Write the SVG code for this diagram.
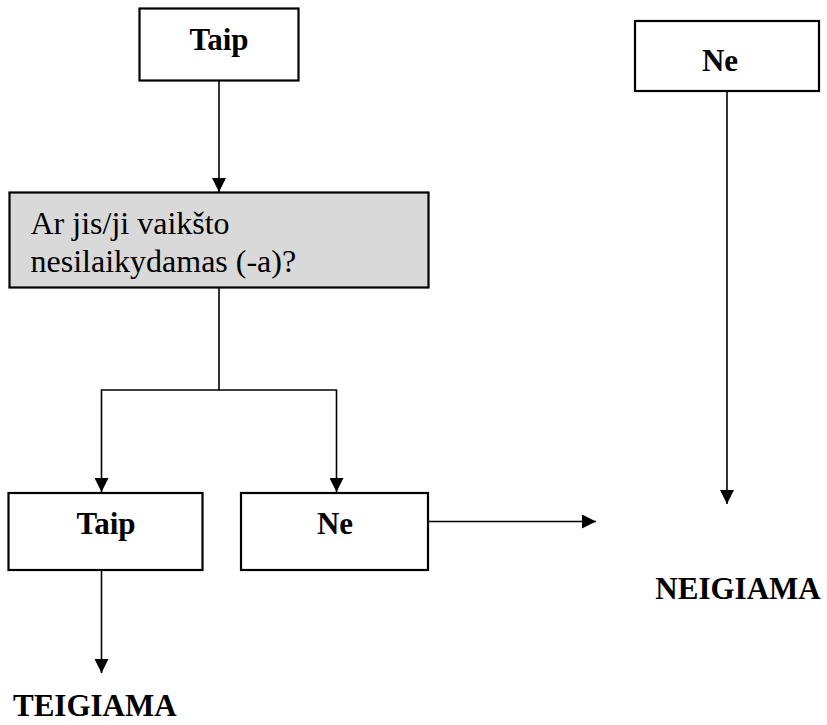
<svg xmlns="http://www.w3.org/2000/svg" width="827" height="725" viewBox="0 0 827 725">
<style>
.box{fill:#ffffff;stroke:#000000;stroke-width:2.2}
.gray{fill:#d9d9d9;stroke:#000000;stroke-width:2.2}
.b{font-family:'Liberation Serif',Tinos,'Times New Roman','DejaVu Serif',serif;font-weight:bold;font-size:31px;fill:#000000}
.r{font-family:'Liberation Serif',Tinos,'Times New Roman','DejaVu Serif',serif;font-size:32px;fill:#000000}
.ln{fill:none;stroke:#000000;stroke-width:1.6}
</style>
<defs>
<marker id="ah" viewBox="0 0 14 14" refX="14" refY="7" markerWidth="14" markerHeight="14" markerUnits="userSpaceOnUse" orient="auto">
<path d="M0,0 L14,7 L0,14 z" fill="#000000"/>
</marker>
</defs>
<rect width="827" height="725" fill="#ffffff"/>
<g id="connectors">
<line class="ln" x1="219" y1="81" x2="219" y2="192" marker-end="url(#ah)"/>
<polyline class="ln" points="219,288 219,390 101.5,390 101.5,492" marker-end="url(#ah)"/>
<polyline class="ln" points="219,390 336.5,390 336.5,492" marker-end="url(#ah)"/>
<line class="ln" x1="101.5" y1="570" x2="101.5" y2="673" marker-end="url(#ah)"/>
<line class="ln" x1="428" y1="521.5" x2="596" y2="521.5" marker-end="url(#ah)"/>
<line class="ln" x1="727" y1="91" x2="727" y2="504" marker-end="url(#ah)"/>
</g>
<g id="taip-top">
<rect class="box" x="139.5" y="8.5" width="159" height="72"/>
<text class="b" x="219" y="50" text-anchor="middle">Taip</text>
</g>
<g id="ne-top">
<rect class="box" x="635" y="21" width="184" height="70"/>
<text class="b" x="720" y="71" text-anchor="middle">Ne</text>
</g>
<g id="question">
<rect class="gray" x="9.5" y="192.5" width="419" height="95"/>
<text class="r" x="30.5" y="234">Ar jis/ji vaikšto</text>
<text class="r" x="30.5" y="272">nesilaikydamas (-a)?</text>
</g>
<g id="taip-bottom">
<rect class="box" x="8.5" y="493" width="194" height="77"/>
<text class="b" x="106" y="534" text-anchor="middle">Taip</text>
</g>
<g id="ne-bottom">
<rect class="box" x="241" y="493" width="187" height="77"/>
<text class="b" x="335" y="534" text-anchor="middle">Ne</text>
</g>
<g id="teigiama">
<text class="b" x="13" y="716">TEIGIAMA</text>
</g>
<g id="neigiama">
<text class="b" x="738" y="599" text-anchor="middle">NEIGIAMA</text>
</g>
</svg>
